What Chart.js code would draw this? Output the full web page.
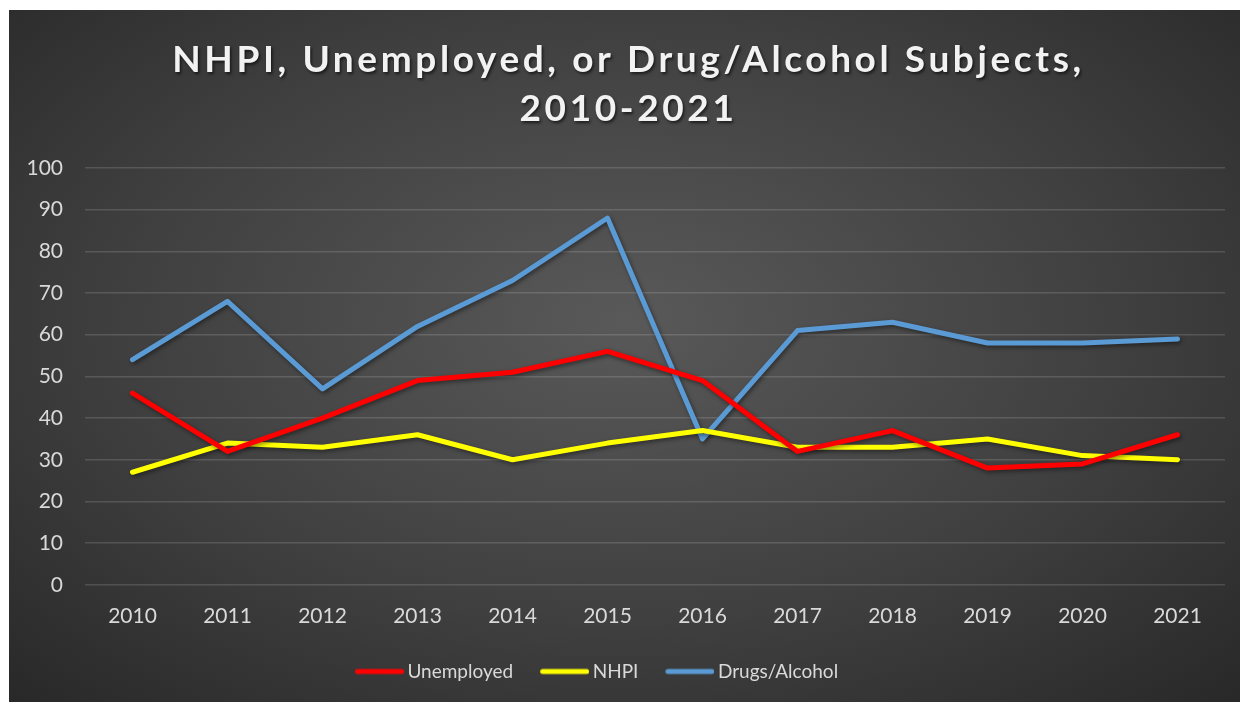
<!DOCTYPE html>
<html>
<head>
<meta charset="utf-8">
<script src="https://cdn.jsdelivr.net/npm/chart.js@4"></script>
<style>
  body { margin: 0; background: #fff; }
  #wrap {
    position: absolute; left: 9px; top: 10px; width: 1231px; height: 692px;
    background: radial-gradient(ellipse 75% 80% at 50% 45%, #595959 0%, #3f3f3f 55%, #262626 100%);
  }
</style>
</head>
<body>
<div id="wrap"><canvas id="myChart" width="1231" height="692"></canvas></div>
<script>
'use strict'

var years = ['2010', '2011', '2012', '2013', '2014', '2015', '2016', '2017', '2018', '2019', '2020', '2021'];
var unemployed = [46, 32, 40, 49, 51, 56, 49, 32, 37, 28, 29, 36];
var nhpi = [27, 34, 33, 36, 30, 34, 37, 33, 33, 35, 31, 30];
var drugsAlcohol = [54, 68, 47, 62, 73, 88, 35, 61, 63, 58, 58, 59];
var titleLines = ['NHPI, Unemployed, or Drug/Alcohol Subjects,', '2010-2021'];

var ctx = document.getElementById('myChart').getContext('2d');

/* legend swatch: a short rounded line sitting close to its label */
function swatch(color) {
    var cv = document.createElement('canvas');
    cv.width = 68;
    cv.height = 8;
    var c = cv.getContext('2d');
    c.strokeStyle = color;
    c.lineWidth = 5;
    c.lineCap = 'round';
    c.beginPath();
    c.moveTo(21.5, 4);
    c.lineTo(65.5, 4);
    c.stroke();
    return cv;
}

function lineSet(label, data, color) {
    return {
        label: label,
        data: data,
        borderColor: color,
        backgroundColor: color,
        borderWidth: 5,
        borderCapStyle: 'round',
        borderJoinStyle: 'round',
        pointStyle: swatch(color),
        pointRadius: 0,
        pointHoverRadius: 0,
        tension: 0
    }
}

/* soft drop shadow under the lines */
var lineShadow = {
    id: 'lineShadow',
    beforeDatasetsDraw: function(chart) {
        var c = chart.ctx;
        c.save();
        c.shadowColor = 'rgba(0,0,0,0.45)';
        c.shadowBlur = 4;
        c.shadowOffsetX = 1.5;
        c.shadowOffsetY = 2;
    },
    afterDatasetsDraw: function(chart) {
        chart.ctx.restore();
    }
}

/* legend sits a little left of centre */
var legendShift = {
    id: 'legendShift',
    afterLayout: function(chart) {
        chart.legend.left -= 36;
        chart.legend.right -= 36;
    }
}

/* spaced bold heading with a shadow */
var heading = {
    id: 'heading',
    afterDraw: function(chart) {
        var c = chart.ctx;
        c.save();
        c.font = 'bold 37px Lato';
        c.letterSpacing = '3.6px';
        c.fillStyle = '#f2f2f2';
        c.textAlign = 'center';
        c.textBaseline = 'middle';
        c.shadowColor = 'rgba(0,0,0,0.6)';
        c.shadowBlur = 3;
        c.shadowOffsetX = 1.5;
        c.shadowOffsetY = 2;
        titleLines.forEach(function(t, i) {
            c.fillText(t, chart.width / 2 + 4, 50 + i * 49);
        });
        c.restore();
    }
}

var graphData = {
    type: 'line',
    data: {
        labels: years,
        datasets: [
            lineSet('Unemployed', unemployed, '#ff0000'),
            lineSet('NHPI', nhpi, '#ffff00'),
            lineSet('Drugs/Alcohol', drugsAlcohol, '#5b9bd5')
        ]
    },
    options: {
        responsive: false,
        animation: false,
        layout: { padding: { top: 158, left: 18, right: 15, bottom: 11 } },
        plugins: {
            tooltip: { enabled: false },
            legend: {
                position: 'bottom',
                labels: {
                    usePointStyle: true,
                    pointStyleWidth: 56,
                    padding: 14,
                    color: '#d9d9d9',
                    font: { family: 'Lato', size: 19 }
                }
            }
        },
        scales: {
            x: {
                offset: true,
                grid: { display: false, drawTicks: false },
                border: { display: false },
                ticks: { color: '#d9d9d9', padding: 19, font: { family: 'Lato', size: 21 } }
            },
            y: {
                min: 0,
                max: 100,
                afterFit: function(s) { s.width = 58; },
                grid: { color: 'rgba(255,255,255,0.14)', lineWidth: 1.5, drawTicks: false },
                border: { display: false },
                ticks: { stepSize: 10, color: '#d9d9d9', padding: 22, font: { family: 'Lato', size: 21 } }
            }
        }
    },
    plugins: [lineShadow, legendShift, heading]
}

var myChart = new Chart(ctx, graphData);
</script>
</body>
</html>
